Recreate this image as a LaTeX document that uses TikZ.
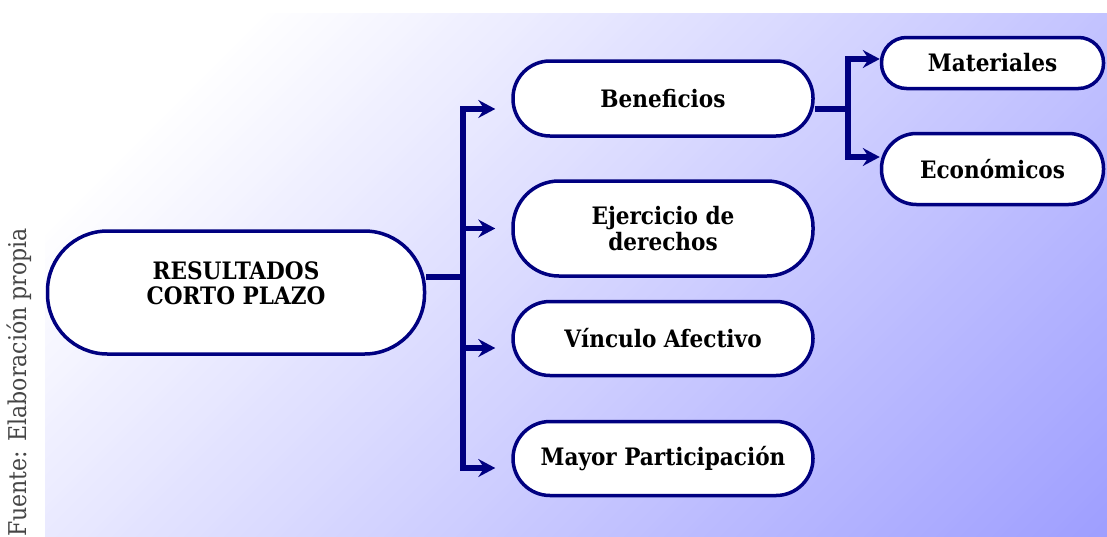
\documentclass[tikz,border=0pt]{standalone}
\usepackage{fontspec}
\setmainfont{DejaVu Serif Condensed}
\usetikzlibrary{arrows.meta}
\definecolor{navy}{HTML}{000080}
\definecolor{gb}{HTML}{9E9EFF}
\definecolor{srcgray}{HTML}{454545}
\begin{document}
\begin{tikzpicture}[x=1pt,y=-1pt,
  pill/.style={draw=navy, line width=3.5pt, fill=white, align=center,
    font=\fontsize{24}{25.5}\selectfont\bfseries, inner sep=0pt},
  conn/.style={draw=navy, line width=5.5pt},
  arr/.style={conn, -{Stealth[length=17pt,width=18pt,inset=6pt]}, shorten >=16pt},
  arrb/.style={conn, -{Stealth[length=17pt,width=18pt,inset=6pt]}}]
\useasboundingbox (0,0) rectangle (1107,536);
% background gradient
\begin{scope}
\clip (45,13) rectangle (1107,536);
\foreach \i in {0,...,199} {
  \pgfmathsetmacro\c{58+\i*8}
  \pgfmathsetmacro\t{min(100,max(0,\i*0.5827-15.44))}
  \fill[gb!\t!white] (\c-1,0) -- (\c+9,0) -- (\c+9-700,700) -- (\c-1-700,700) -- cycle;
}
\end{scope}
% source
\node[rotate=90, anchor=base east, font=\fontsize{24.5}{27}\selectfont, text=srcgray, inner sep=0pt] (src) at (27,228) {Fuente: Elaboración propia};
% nodes
\node[pill, minimum width=377pt, minimum height=123pt, rounded corners=60pt, text depth=19pt] (main) at (236,292.5) {RESULTADOS\\CORTO PLAZO};
\node[pill, minimum width=300pt, minimum height=75pt, rounded corners=37pt] (ben) at (663,98.5) {Beneficios};
\node[pill, minimum width=300pt, minimum height=95pt, rounded corners=46pt] (eje) at (663,228.5) {Ejercicio de\\derechos};
\node[pill, minimum width=300pt, minimum height=74pt, rounded corners=37pt] (vin) at (663,338.5) {Vínculo Afectivo};
\node[pill, minimum width=300pt, minimum height=74pt, rounded corners=37pt] (may) at (663,458.5) {Mayor Participación};
\node[pill, minimum width=222pt, minimum height=51pt, rounded corners=25pt] (mat) at (992.5,63) {Materiales};
\node[pill, minimum width=222pt, minimum height=71pt, rounded corners=35pt] (eco) at (992.5,169) {Económicos};
% connectors
\coordinate (jA) at (463,277);
\coordinate (jB) at (848,109);
\draw[conn] (main.east |- jA) -- (jA);
\draw[arr] (jA) |- ([yshift=-10.5pt]ben.west);
\draw[arr] (jA) |- (eje.west);
\draw[arr] (jA) |- ([yshift=-9.5pt]vin.west);
\draw[arr] (jA) |- ([yshift=-9.5pt]may.west);
\draw[conn] (ben.east |- jB) -- (jB);
\draw[arrb] (jB) |- ([yshift=4pt]mat.west);
\draw[arrb] (jB) |- ([yshift=12pt]eco.west);
\end{tikzpicture}
\end{document}
